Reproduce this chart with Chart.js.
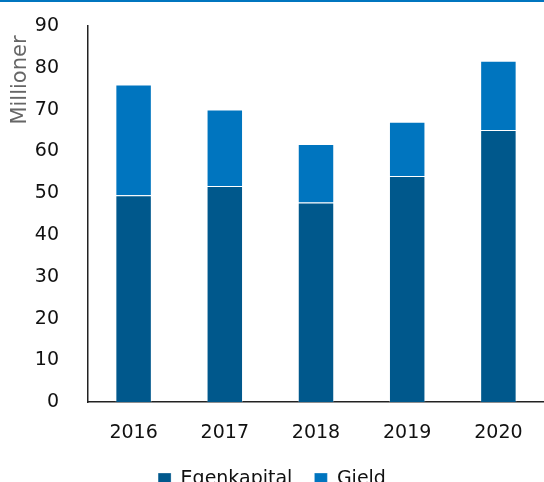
<!DOCTYPE html>
<html>
<head>
<meta charset="utf-8">
<script src="https://cdn.jsdelivr.net/npm/chart.js@4/dist/chart.umd.min.js"></script>
<style>
html,body{margin:0;padding:0;background:#fff;overflow:hidden;width:544px;height:482px;}
#wrap{position:absolute;left:0;top:0;width:544px;height:499px;}
#topline{position:absolute;left:0;top:0;width:544px;height:1.5px;background:#0075BF;z-index:2;}
</style>
</head>
<body>
<div id="topline"></div>
<div id="wrap"><canvas id="c" width="544" height="499"></canvas></div>
<script>
const categories = ['2016', '2017', '2018', '2019', '2020'];
const egenkapital = [49.5, 51.7, 47.8, 54.1, 65.1];
const gield = [26.5, 18.3, 14.0, 13.0, 16.6];
const yAxisTitle = 'Millioner';
const yMin = 0, yMax = 90, yStep = 10;

const FONT = '"DejaVu Sans", sans-serif';

const yTitlePlugin = {
  id: 'yTitle',
  afterDraw(chart) {
    const ctx = chart.ctx;
    ctx.save();
    ctx.font = '21px ' + FONT;
    ctx.fillStyle = '#666666';
    ctx.translate(21, 80);
    ctx.rotate(-Math.PI / 2);
    ctx.textAlign = 'center';
    ctx.textBaseline = 'middle';
    ctx.fillText(yAxisTitle, 0, 0);
    ctx.restore();
  }
};

new Chart(document.getElementById('c'), {
  type: 'bar',
  data: {
    labels: categories,
    datasets: [
      { label: 'Egenkapital', data: egenkapital, backgroundColor: '#00588C', borderColor: 'rgba(255,255,255,0.3)', borderWidth: 1, barPercentage: 0.4, categoryPercentage: 1 },
      { label: 'Gield', data: gield, backgroundColor: '#0075BF', borderColor: 'rgba(255,255,255,0.3)', borderWidth: 1, barPercentage: 0.4, categoryPercentage: 1 }
    ]
  },
  options: {
    responsive: false,
    animation: false,
    layout: { padding: { top: 26, right: 0, left: 0, bottom: 0 } },
    plugins: {
      legend: {
        position: 'bottom',
        labels: { boxWidth: 13, boxHeight: 13, font: { family: FONT, size: 19 }, color: '#111', padding: 22 }
      },
      tooltip: { enabled: false }
    },
    scales: {
      x: {
        stacked: true,
        grid: { display: false },
        border: { display: true, color: '#222', width: 1.5 },
        ticks: { font: { family: FONT, size: 19 }, color: '#111', padding: 11 },
        afterFit(scale) { scale.height = scale.height - 7; }
      },
      y: {
        stacked: true,
        min: yMin, max: yMax,
        grid: { display: false },
        border: { display: true, color: '#222', width: 1.5 },
        ticks: { stepSize: yStep, font: { family: FONT, size: 19 }, color: '#111', padding: 21 },
        afterFit(scale) { scale.width = 88; scale.paddingTop = 0; scale.paddingBottom = 0; }
      }
    }
  },
  plugins: [yTitlePlugin]
});
</script>
</body>
</html>
